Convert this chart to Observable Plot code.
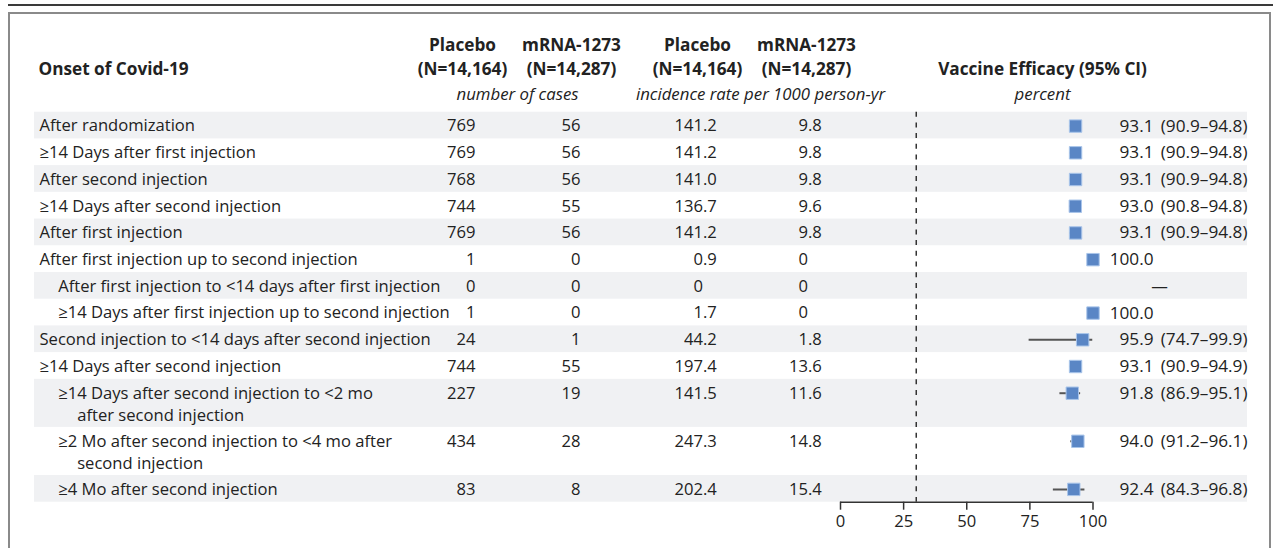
<!DOCTYPE html>
<html><head><meta charset="utf-8">
<script src="https://cdn.jsdelivr.net/npm/d3@7"></script>
<script src="https://cdn.jsdelivr.net/npm/@observablehq/plot@0.6"></script>
<style>
  body { margin: 0; background: #fff; }
  #wrap { position: relative; width: 1273px; height: 548px; overflow: hidden; background: #fff; }
  #wrap svg { position: absolute; left: 0; top: 0; }
  .topline { position: absolute; left: 8px; top: 4px; width: 1265px; height: 2px; background: #3a3a3a; }
  .box { position: absolute; left: 8px; top: 12px; width: 1259px; height: 600px; border: 2px solid #8a8a8a; border-bottom: none; pointer-events: none; }
</style>
</head><body>
<div id="wrap"><div class="topline"></div><div class="box"></div></div>
<script>
// ---- data ----
const labels = [
  "After randomization",
  "≥14 Days after first injection",
  "After second injection",
  "≥14 Days after second injection",
  "After first injection",
  "After first injection up to second injection",
  "After first injection to <14 days after first injection",
  "≥14 Days after first injection up to second injection",
  "Second injection to <14 days after second injection",
  "≥14 Days after second injection",
  "≥14 Days after second injection to <2 mo\nafter second injection",
  "≥2 Mo after second injection to <4 mo after\nsecond injection",
  "≥4 Mo after second injection"
];
const indents = [0, 0, 0, 0, 0, 0, 1, 1, 0, 0, 1, 1, 1];
const placeboCases = [769, 769, 768, 744, 769, 1, 0, 1, 24, 744, 227, 434, 83];
const mrnaCases = [56, 56, 56, 55, 56, 0, 0, 0, 1, 55, 19, 28, 8];
const placeboRate = [141.2, 141.2, 141.0, 136.7, 141.2, 0.9, 0, 1.7, 44.2, 197.4, 141.5, 247.3, 202.4];
const mrnaRate = [9.8, 9.8, 9.8, 9.6, 9.8, 0, 0, 0, 1.8, 13.6, 11.6, 14.8, 15.4];
const efficacy = [93.1, 93.1, 93.1, 93.0, 93.1, 100.0, null, 100.0, 95.9, 93.1, 91.8, 94.0, 92.4];
const ciLow = [90.9, 90.9, 90.9, 90.8, 90.9, null, null, null, 74.7, 90.9, 86.9, 91.2, 84.3];
const ciHigh = [94.8, 94.8, 94.8, 94.8, 94.8, null, null, null, 99.9, 94.9, 95.1, 96.1, 96.8];
const xTicks = [0, 25, 50, 75, 100];
const nullLine = 30;
const headerGroups = ["Placebo", "mRNA-1273", "Placebo", "mRNA-1273"];
const headerNs = ["(N=14,164)", "(N=14,287)", "(N=14,164)", "(N=14,287)"];
const headerUnits = ["number of cases", "incidence rate per 1000 person-yr", "percent"];
const firstHeader = "Onset of Covid-19";
const efficacyHeader = "Vaccine Efficacy (95% CI)";

// ---- derived table ----
const DOUBLE = 1.8, LINE2 = 0.824;
let acc = 0;
const rows = labels.map((lab, i) => {
  const n = lab.split("\n").length;
  const top = acc;
  acc += n === 1 ? 1 : DOUBLE;
  const fmt = v => v === 0 ? "0" : v.toFixed(1);
  const pr = fmt(placeboRate[i]), mr = fmt(mrnaRate[i]);
  return {
    i, top, bottom: acc, y: top + 0.52,
    pc: String(placeboCases[i]), mc: String(mrnaCases[i]),
    prInt: pr.split(".")[0], prFrac: pr.includes(".") ? "." + pr.split(".")[1] : "",
    mrInt: mr.split(".")[0], mrFrac: mr.includes(".") ? "." + mr.split(".")[1] : "",
    est: efficacy[i], lo: ciLow[i], hi: ciHigh[i]
  };
});
const total = acc;
const lines = rows.flatMap(r => labels[r.i].split("\n").map((t, k) => ({
  text: t, y: r.y + k * LINE2, indent: indents[r.i], cont: k > 0
})));
const withEst = rows.filter(r => r.est != null);
const withCI = rows.filter(r => r.lo != null);
const noEst = rows.filter(r => r.est == null);

const W = 1273, H = 548;
const frameL = 34, frameR = 1247, frameT = 111.7, frameB = 501.7;
const FS = 16.6, FSR = 17.2;
const txt = "#222";

// helper for header texts (positions relative to the frame's top-left)
const head = (text, cx, cy, opts = {}) => Plot.text([text], {
  text: d => d, frameAnchor: "top-left", dx: cx - frameL, dy: cy - frameT,
  textAnchor: "middle", lineAnchor: "middle", fill: txt, fontSize: 17.2, fontWeight: "bold", ...opts
});

const plot = Plot.plot({
  width: W, height: H,
  marginLeft: frameL, marginRight: W - frameR, marginTop: frameT, marginBottom: H - frameB,
  x: {domain: [0, 100], range: [840, 1092.5], axis: null},
  y: {domain: [0, total], range: [frameT, frameB], axis: null},
  style: {fontFamily: "'Open Sans', sans-serif", fontSize: FS + "px", color: txt, background: "transparent", overflow: "visible"},
  marks: [
    // banded rows
    Plot.rect(rows.filter(r => r.i % 2 === 0), {y1: "top", y2: "bottom", fill: "#f0f1f3"}),
    // headers
    head(firstHeader, 38, 69, {textAnchor: "start"}),
    ...headerGroups.map((h, k) => head(h, [462, 571, 697, 806][k], 45)),
    ...headerNs.map((h, k) => head(h, [462, 571, 697, 806][k], 69)),
    head(efficacyHeader, 1042, 69),
    ...headerUnits.map((h, k) => head(h, [517, 760, 1042][k], 94, {fontWeight: "normal", fontStyle: "italic", fontSize: 16.8})),
    // row labels
    Plot.text(lines.filter(d => !d.cont && d.indent === 0), {y: "y", text: "text", frameAnchor: "left", textAnchor: "start", dx: 5, fill: txt}),
    Plot.text(lines.filter(d => !d.cont && d.indent === 1), {y: "y", text: "text", frameAnchor: "left", textAnchor: "start", dx: 23.7, fill: txt}),
    Plot.text(lines.filter(d => d.cont), {y: "y", text: "text", frameAnchor: "left", textAnchor: "start", dx: 42.7, fill: txt}),
    // number of cases
    Plot.text(rows, {y: "y", text: "pc", frameAnchor: "left", textAnchor: "end", dx: 475 - frameL, fill: txt}),
    Plot.text(rows, {y: "y", text: "mc", frameAnchor: "left", textAnchor: "end", dx: 580 - frameL, fill: txt}),
    // incidence rates (decimal aligned)
    Plot.text(rows, {y: "y", text: "prInt", frameAnchor: "left", textAnchor: "end", dx: 702.5 - frameL, fill: txt}),
    Plot.text(rows, {y: "y", text: "prFrac", frameAnchor: "left", textAnchor: "start", dx: 702.5 - frameL, fill: txt}),
    Plot.text(rows, {y: "y", text: "mrInt", frameAnchor: "left", textAnchor: "end", dx: 807.5 - frameL, fill: txt}),
    Plot.text(rows, {y: "y", text: "mrFrac", frameAnchor: "left", textAnchor: "start", dx: 807.5 - frameL, fill: txt}),
    // reference line
    Plot.ruleX([nullLine], {y1: 0, y2: total, stroke: "#333", strokeWidth: 1.5, strokeDasharray: "5,5.7"}),
    // confidence intervals and estimates
    Plot.ruleY(withCI, {y: "y", x1: "lo", x2: "hi", stroke: "#555", strokeWidth: 2}),
    Plot.dot(withEst, {x: "est", y: "y", symbol: "square", r: 7.0, fill: "#5a86c5", stroke: "#a9c5ea", strokeWidth: 1}),
    // efficacy text
    Plot.text(withEst, {y: "y", text: d => d.est.toFixed(1), frameAnchor: "right", textAnchor: "end", dx: 1153 - frameR, fill: txt, fontSize: FSR}),
    Plot.text(withCI, {y: "y", text: d => `(${d.lo.toFixed(1)}–${d.hi.toFixed(1)})`, frameAnchor: "right", textAnchor: "end", dx: 0, fill: txt, fontSize: FSR}),
    Plot.text(noEst, {y: "y", text: () => "—", frameAnchor: "right", textAnchor: "middle", dx: 1159 - frameR, fill: txt}),
    // axis
    Plot.ruleY([total], {x1: 0, x2: 100, stroke: "#333", strokeWidth: 1.5}),
    Plot.axisX({ticks: xTicks, tickSize: 8, tickPadding: 5, label: null, stroke: "#333", strokeWidth: 1.5, fill: txt, fontSize: FS})
  ]
});
document.getElementById("wrap").prepend(plot);
</script></body></html>
